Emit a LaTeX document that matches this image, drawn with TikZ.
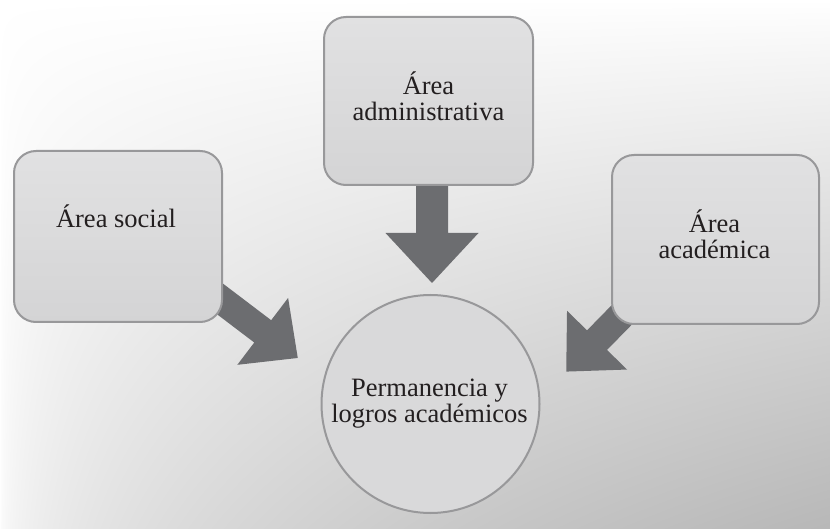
\documentclass[tikz,border=0pt]{standalone}
\usepackage{fontspec}
\setmainfont{Liberation Serif}
\usetikzlibrary{calc}
\pgfdeclarefunctionalshading{bgshade}{\pgfpoint{0bp}{0bp}}{\pgfpoint{100bp}{100bp}}{}{
  25 sub 50 div 1 exch sub abs 0.9 exp exch 25 sub 50 div abs 0.45 exp mul 0.28 mul 1 exch sub dup dup
}
\definecolor{boxline}{RGB}{152,152,154}
\definecolor{boxtop}{RGB}{225,225,226}
\definecolor{boxbot}{RGB}{212,212,213}
\definecolor{arrowfill}{RGB}{108,109,112}
\definecolor{txt}{RGB}{35,31,32}
\tikzset{
  areabox/.style={draw=boxline, line width=2pt, rounded corners=22pt,
    top color=boxtop, bottom color=boxbot, inner sep=0pt},
  goalcircle/.style={circle, draw=boxline, line width=2pt, fill=boxbot!60!boxtop,
    minimum size=218pt, inner sep=0pt},
  lbl/.style={font=\fontsize{26.5}{26}\selectfont, text=txt, align=center, inner sep=0pt},
  bigarrow/.style={fill=arrowfill}
}
\begin{document}
\begin{tikzpicture}[x=1pt,y=-1pt]
\useasboundingbox (0,0) rectangle (830,529);
\fill[shading=bgshade] (0,0) rectangle (830,529);

% arrow tails / tips
\coordinate (sT) at (199,283);
\coordinate (aT) at (432,180);
\coordinate (cT) at (653,283);

% block arrows
\begin{scope}[shift={(sT)}, rotate=-37.2]
  \fill[bigarrow] (0,-14) -- (80,-14) -- (80,-42) -- (124,0) -- (80,42) -- (80,14) -- (0,14) -- cycle;
\end{scope}
\begin{scope}[shift={(aT)}, rotate=-90]
  \fill[bigarrow] (0,-16) -- (53,-16) -- (53,-46.5) -- (103,0) -- (53,46.5) -- (53,16) -- (0,16) -- cycle;
\end{scope}
\begin{scope}[shift={(cT)}, rotate=-134.4]
  \fill[bigarrow] (0,-14) -- (80,-14) -- (80,-42) -- (124,0) -- (80,42) -- (80,14) -- (0,14) -- cycle;
\end{scope}

% boxes
\node[areabox, minimum width=208pt, minimum height=171pt] (social) at (118,236.5) {};
\node[areabox, minimum width=209pt, minimum height=168pt] (admin) at (428.5,101) {};
\node[areabox, minimum width=207pt, minimum height=169pt] (acad) at (715.5,239.5) {};
\node[goalcircle] (goal) at (430.5,404) {};

% labels
\node[lbl] (socialtxt) at (116,216) {Área social};
\node[lbl] (admintxt) at (428.5,96.5) {Área\\administrativa};
\node[lbl] (acadtxt) at (714.5,234.5) {Área\\académica};
\node[lbl] (goaltxt) at (429.5,403.6) {Permanencia y\\logros académicos};
\end{tikzpicture}
\end{document}
